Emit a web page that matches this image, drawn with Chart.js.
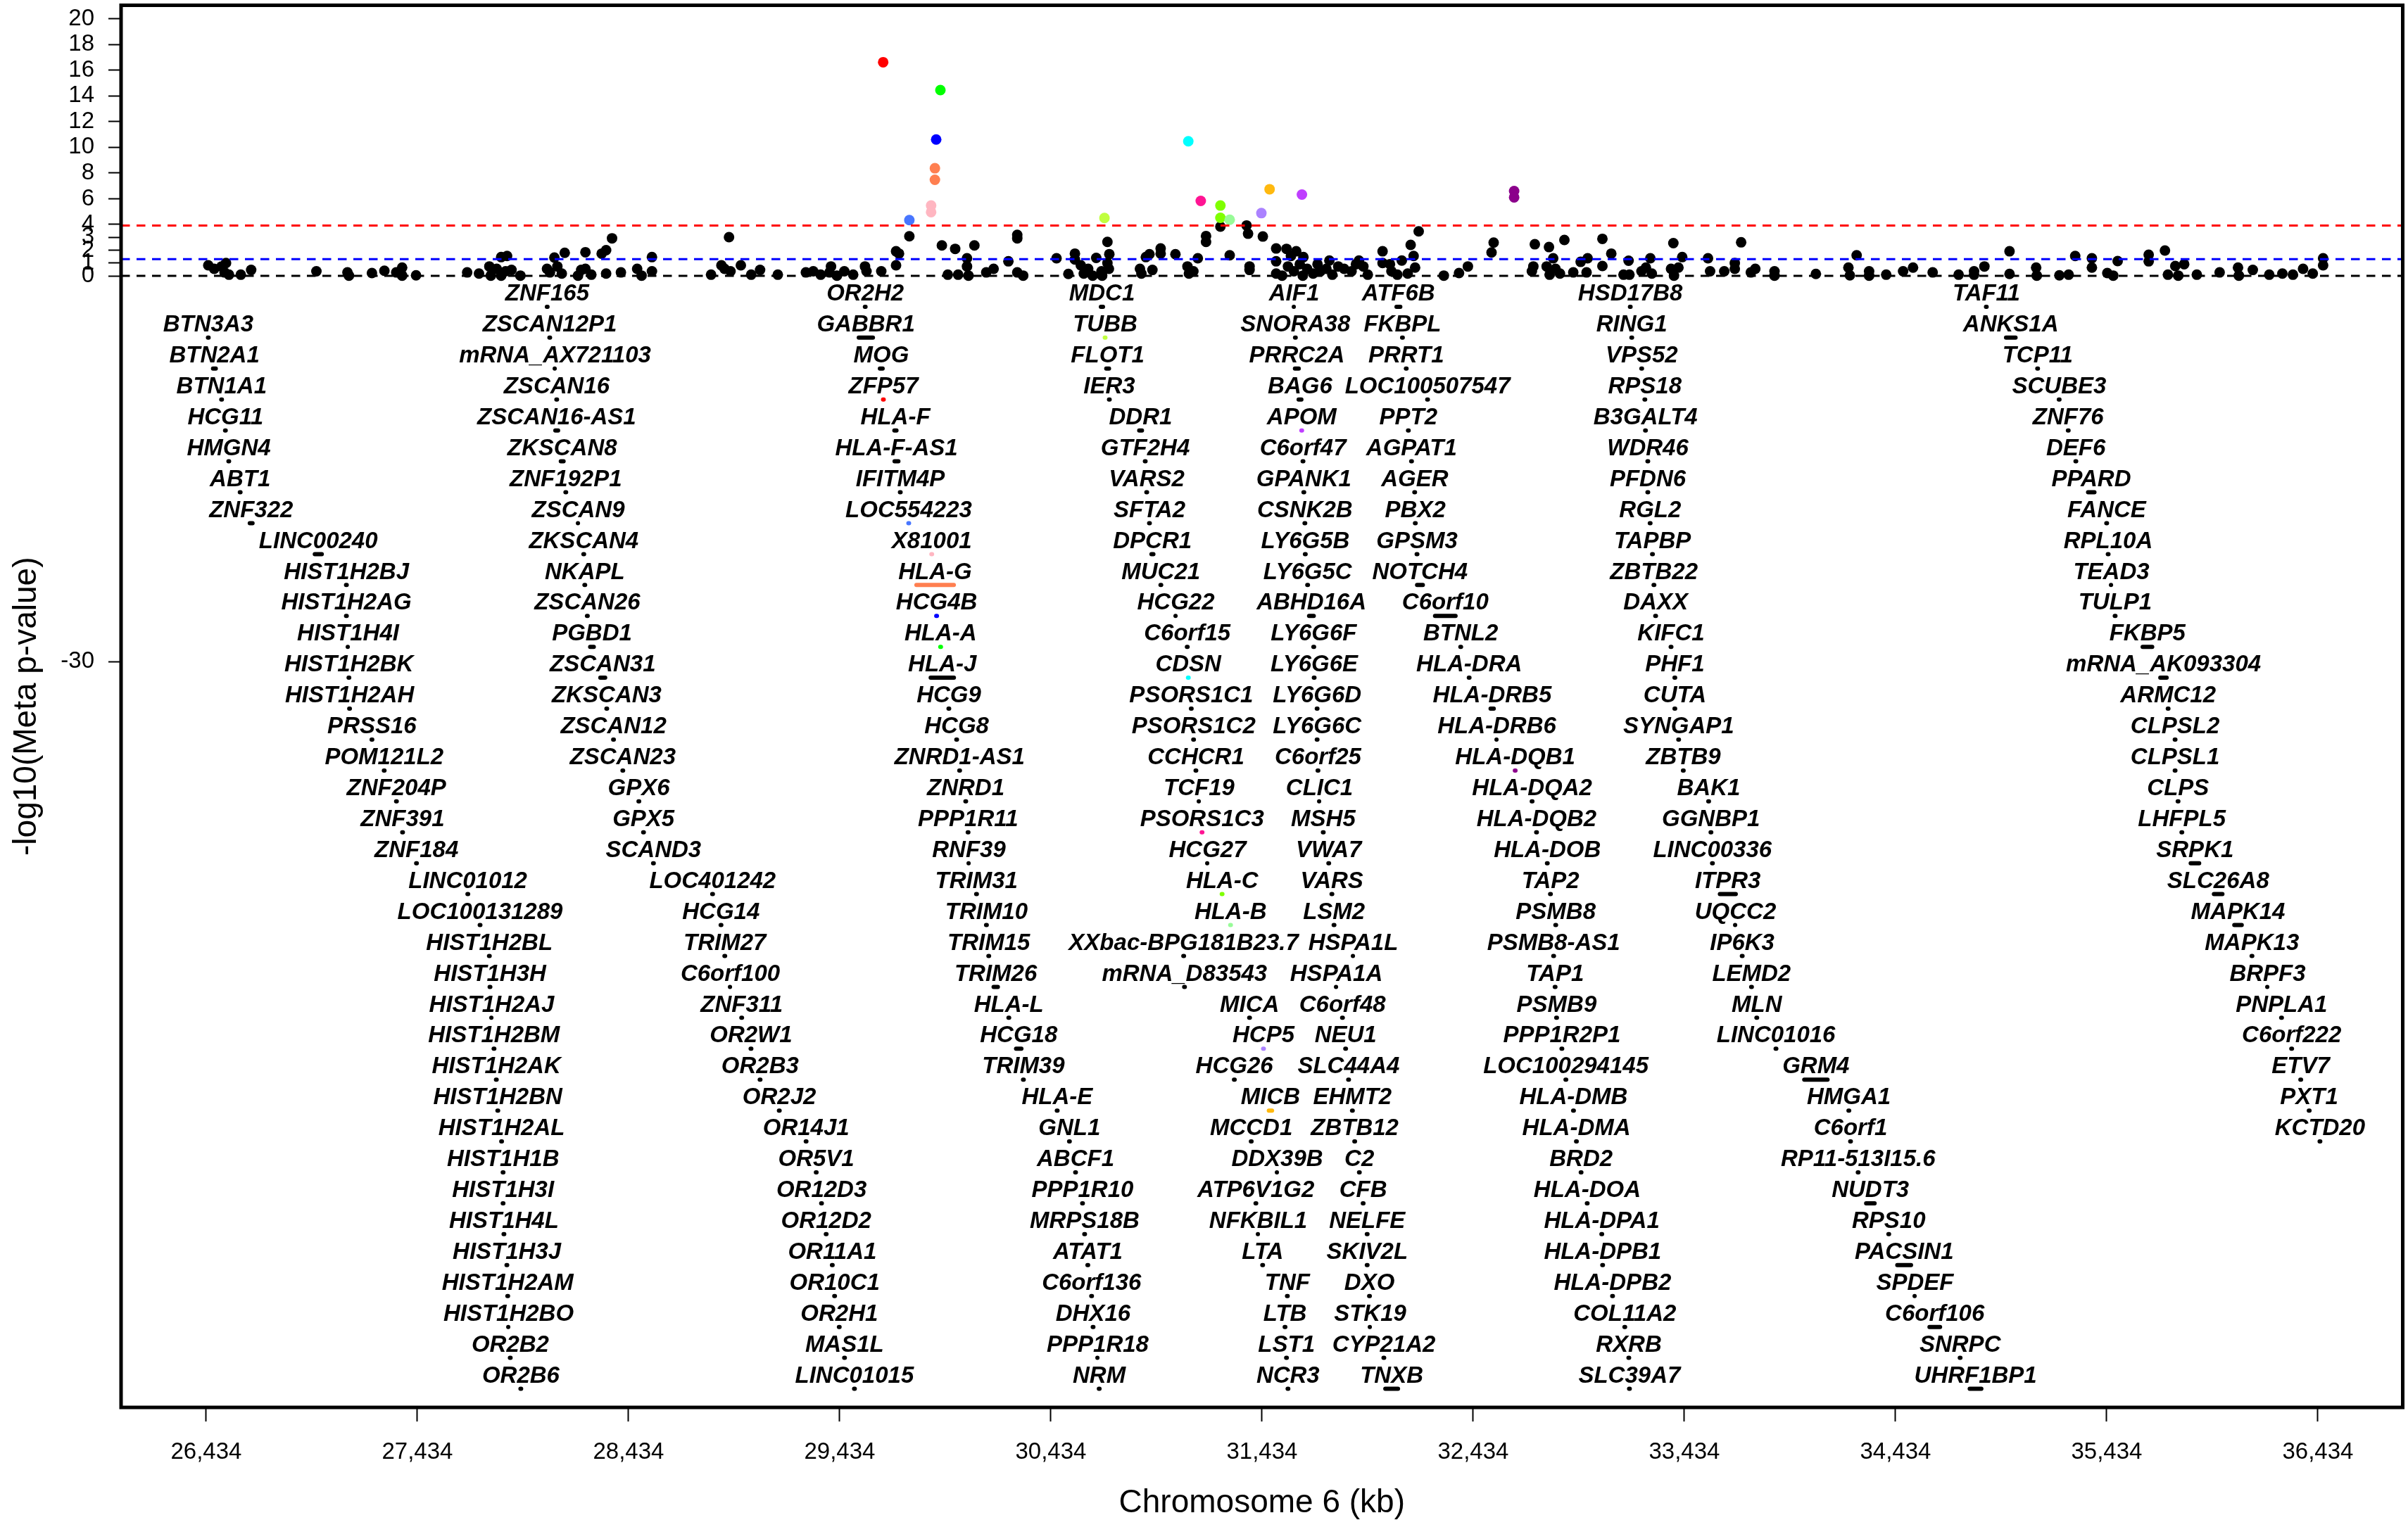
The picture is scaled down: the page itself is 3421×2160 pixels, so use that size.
<!DOCTYPE html>
<html>
<head>
<meta charset="utf-8">
<script src="https://cdn.jsdelivr.net/npm/chart.js@4.4.1/dist/chart.umd.min.js"></script>
<style>
html,body{margin:0;padding:0;background:#ffffff;}
canvas{display:block;}
</style>
</head>
<body>
<canvas id="chart" width="3421" height="2160"></canvas>
<script>
// ---------------- DATA ----------------
const xTickKb = [26434, 27434, 28434, 29434, 30434, 31434, 32434, 33434, 34434, 35434, 36434];
const yTickValues = [-30, 0, 1, 2, 3, 4, 6, 8, 10, 12, 14, 16, 18, 20];
const thresholdBonferroni = 3.92;
const thresholdNominal = 1.30;
const baseline = 0;

// black SNPs: position (kb) and -log10(p)
const blackPosKb = [
26444,26472,26507,26528,26521,26542,26598,26647,26956,27103,27110,27219,27278,27334,27362,27362,27428,
27670,27726,27775,27782,27810,27831,27859,27831,27852,27880,27922,28048,28062,28083,28097,28132,28118,28195,28230,28210,
28230,28258,28307,28328,28356,28328,28398,28475,28496,28545,28545,28825,28874,28889,28910,28917,28966,29015,29057,29141,
29274,29309,29344,29393,29386,29421,29456,29498,29554,29561,29631,29701,29701,29715,29764,29918,29981,29946,29995,30037,
30037,30044,30072,30128,30163,30233,30275,30275,30275,30303,
30461,30517,30548,30548,30576,30590,30611,30632,30649,30674,30677,30702,30711,30702,30709,30856,30863,30884,30901,30915,
30954,30954,31024,31081,31088,31109,31130,31169,31169,31237,31281,31361,31368,31375,31375,31438,31501,31550,31596,31630,
31501,31501,31529,31557,31571,31585,31613,31627,31648,31676,31697,31711,31739,31753,31767,31795,31823,31858,31879,31893,
31914,31935,32005,32005,32040,32047,32075,32096,32124,32138,32152,32159,32176,32295,32367,32409,32521,32531,
32726,32719,32712,32793,32813,32782,32796,32824,32845,32866,32908,32943,32976,32971,33046,33046,33088,33146,33170,33174,
33231,33252,33273,33280,33382,33371,33406,33385,33424,33546,33556,33623,33673,33673,33703,33749,33770,33861,33861,34057,
34211,34218,34250,34309,34309,34390,34470,34517,34610,
34733,34806,34806,34855,34974,34974,35100,35103,35210,35254,35285,35364,35364,35437,35465,35486,35633,35633,35710,35724,
35759,35801,35773,35861,35969,36056,36060,36126,36204,36266,36316,36364,36410,36459,36459
];
const blackLogP = [
0.82,0.55,0.73,1.00,0.27,0.09,0.09,0.46,0.36,0.27,0.02,0.22,0.40,0.27,0.64,0.02,0.04,
0.27,0.18,0.73,0.02,0.55,1.46,1.55,0.02,0.36,0.46,0.02,0.55,0.27,1.42,0.73,1.79,0.18,0.02,1.84,0.46,
0.55,0.09,1.73,2.00,2.92,0.18,0.27,0.55,0.02,1.46,0.36,0.09,0.82,0.55,3.01,0.36,0.82,0.09,0.46,0.09,
0.27,0.36,0.09,0.73,0.27,0.02,0.36,0.09,0.73,0.36,0.36,0.82,1.91,1.73,3.08,2.37,2.10,0.09,0.09,1.37,
0.73,0.02,2.37,0.27,0.55,1.13,3.19,2.92,0.27,0.02,
1.37,0.15,1.73,1.28,0.82,0.18,0.55,0.02,1.40,0.36,0.02,2.64,1.69,1.00,0.55,0.55,0.18,1.46,1.68,0.46,
2.13,1.73,1.68,0.73,0.18,0.36,1.37,3.10,2.64,3.83,1.60,3.92,3.28,0.73,0.46,3.06,2.13,2.10,1.91,1.46,
1.13,0.18,0.02,0.73,1.55,0.36,0.91,0.02,0.55,0.18,0.91,0.36,0.55,1.19,0.09,0.73,0.55,0.36,0.91,1.19,
0.73,0.09,1.91,1.00,0.91,0.36,0.09,1.19,0.18,2.41,1.55,0.64,3.46,0.02,0.22,0.73,1.82,2.59,
2.46,0.73,0.36,2.24,1.37,0.73,0.09,0.55,0.18,2.79,0.27,1.09,1.37,0.27,2.88,0.77,1.73,0.09,1.18,0.09,
0.36,0.64,1.37,0.18,2.55,0.55,0.64,0.02,1.46,1.37,0.36,0.36,1.00,0.55,2.61,0.27,0.55,0.36,0.02,0.15,
0.64,0.04,1.60,0.36,0.02,0.09,0.36,0.64,0.27,
0.09,0.36,0.09,0.73,1.91,0.15,0.64,0.02,0.04,0.09,1.55,1.37,0.64,0.22,0.02,1.15,1.64,1.13,1.97,0.09,
0.77,0.91,0.02,0.09,0.27,0.64,0.02,0.46,0.09,0.18,0.09,0.55,0.18,1.37,0.82
];

// highlighted (colored) SNPs
const hitPosKb = [29640, 29911, 29891, 29885, 29885, 29867, 29867, 29764, 30688, 31085, 31144, 31237, 31237, 31281, 31470, 31431, 31623, 32628, 32628];
const hitLogP  = [16.62, 14.45, 10.61, 8.37, 7.47, 5.47, 4.96, 4.34, 4.50, 10.47, 5.83, 5.47, 4.52, 4.37, 6.74, 4.88, 6.32, 6.60, 6.11];
const hitColor = ['#FF0000','#00FF00','#0000FF','#FF7F50','#FF7F50','#FFB6C1','#FFB6C1','#4876FF','#C0FF3E','#00FFFF','#FF1493','#7FFF00','#7FFF00','#98FB98','#FFB90F','#AB82FF','#BF3EFF','#8B008B','#8B008B'];

// genes, by label column (each column fills consecutive label rows)
const geneColumnFirstRow = [1, 0, 0, 0, 0, 0, 0, 0];
const geneNamesByColumn = [
 ['BTN3A3','BTN2A1','BTN1A1','HCG11','HMGN4','ABT1','ZNF322','LINC00240','HIST1H2BJ','HIST1H2AG','HIST1H4I','HIST1H2BK','HIST1H2AH','PRSS16','POM121L2','ZNF204P','ZNF391','ZNF184','LINC01012','LOC100131289','HIST1H2BL','HIST1H3H','HIST1H2AJ','HIST1H2BM','HIST1H2AK','HIST1H2BN','HIST1H2AL','HIST1H1B','HIST1H3I','HIST1H4L','HIST1H3J','HIST1H2AM','HIST1H2BO','OR2B2','OR2B6'],
 ['ZNF165','ZSCAN12P1','mRNA_AX721103','ZSCAN16','ZSCAN16-AS1','ZKSCAN8','ZNF192P1','ZSCAN9','ZKSCAN4','NKAPL','ZSCAN26','PGBD1','ZSCAN31','ZKSCAN3','ZSCAN12','ZSCAN23','GPX6','GPX5','SCAND3','LOC401242','HCG14','TRIM27','C6orf100','ZNF311','OR2W1','OR2B3','OR2J2','OR14J1','OR5V1','OR12D3','OR12D2','OR11A1','OR10C1','OR2H1','MAS1L','LINC01015'],
 ['OR2H2','GABBR1','MOG','ZFP57','HLA-F','HLA-F-AS1','IFITM4P','LOC554223','X81001','HLA-G','HCG4B','HLA-A','HLA-J','HCG9','HCG8','ZNRD1-AS1','ZNRD1','PPP1R11','RNF39','TRIM31','TRIM10','TRIM15','TRIM26','HLA-L','HCG18','TRIM39','HLA-E','GNL1','ABCF1','PPP1R10','MRPS18B','ATAT1','C6orf136','DHX16','PPP1R18','NRM'],
 ['MDC1','TUBB','FLOT1','IER3','DDR1','GTF2H4','VARS2','SFTA2','DPCR1','MUC21','HCG22','C6orf15','CDSN','PSORS1C1','PSORS1C2','CCHCR1','TCF19','PSORS1C3','HCG27','HLA-C','HLA-B','XXbac-BPG181B23.7','mRNA_D83543','MICA','HCP5','HCG26','MICB','MCCD1','DDX39B','ATP6V1G2','NFKBIL1','LTA','TNF','LTB','LST1','NCR3'],
 ['AIF1','SNORA38','PRRC2A','BAG6','APOM','C6orf47','GPANK1','CSNK2B','LY6G5B','LY6G5C','ABHD16A','LY6G6F','LY6G6E','LY6G6D','LY6G6C','C6orf25','CLIC1','MSH5','VWA7','VARS','LSM2','HSPA1L','HSPA1A','C6orf48','NEU1','SLC44A4','EHMT2','ZBTB12','C2','CFB','NELFE','SKIV2L','DXO','STK19','CYP21A2','TNXB'],
 ['ATF6B','FKBPL','PRRT1','LOC100507547','PPT2','AGPAT1','AGER','PBX2','GPSM3','NOTCH4','C6orf10','BTNL2','HLA-DRA','HLA-DRB5','HLA-DRB6','HLA-DQB1','HLA-DQA2','HLA-DQB2','HLA-DOB','TAP2','PSMB8','PSMB8-AS1','TAP1','PSMB9','PPP1R2P1','LOC100294145','HLA-DMB','HLA-DMA','BRD2','HLA-DOA','HLA-DPA1','HLA-DPB1','HLA-DPB2','COL11A2','RXRB','SLC39A7'],
 ['HSD17B8','RING1','VPS52','RPS18','B3GALT4','WDR46','PFDN6','RGL2','TAPBP','ZBTB22','DAXX','KIFC1','PHF1','CUTA','SYNGAP1','ZBTB9','BAK1','GGNBP1','LINC00336','ITPR3','UQCC2','IP6K3','LEMD2','MLN','LINC01016','GRM4','HMGA1','C6orf1','RP11-513I15.6','NUDT3','RPS10','PACSIN1','SPDEF','C6orf106','SNRPC','UHRF1BP1'],
 ['TAF11','ANKS1A','TCP11','SCUBE3','ZNF76','DEF6','PPARD','FANCE','RPL10A','TEAD3','TULP1','FKBP5','mRNA_AK093304','ARMC12','CLPSL2','CLPSL1','CLPS','LHFPL5','SRPK1','SLC26A8','MAPK14','MAPK13','BRPF3','PNPLA1','C6orf222','ETV7','PXT1','KCTD20']
];
const geneMidKbByColumn = [
 [26444,26473,26507,26525,26541,26595,26647,26965,27098,27098,27106,27110,27113,27219,27277,27335,27364,27430,27673,27731,27775,27778,27786,27797,27808,27815,27833,27840,27840,27844,27858,27862,27866,27874,27924],
 [28049,28061,28086,28094,28094,28120,28137,28196,28222,28227,28239,28261,28312,28331,28363,28407,28483,28505,28552,28832,28872,28890,28916,28970,29014,29057,29148,29275,29323,29348,29370,29399,29410,29432,29457,29504],
 [29555,29558,29631,29641,29698,29703,29721,29761,29870,29886,29893,29912,29920,29951,29988,30002,30031,30042,30046,30082,30129,30140,30173,30235,30282,30304,30464,30522,30551,30584,30594,30609,30627,30634,30656,30663],
 [30676,30691,30703,30711,30859,30881,30888,30901,30915,30955,31026,31080,31085,31099,31110,31121,31136,31150,31176,31245,31285,31063,31067,31375,31441,31303,31474,31383,31506,31405,31416,31437,31554,31543,31550,31557],
 [31586,31592,31599,31614,31622,31628,31632,31637,31639,31650,31668,31679,31681,31695,31695,31699,31706,31724,31750,31765,31775,31866,31786,31815,31830,31844,31862,31873,31895,31913,31932,31932,31943,31946,32011,32048],
 [32080,32099,32117,32218,32127,32142,32157,32160,32168,32182,32302,32375,32415,32524,32546,32633,32713,32734,32785,32800,32825,32815,32822,32829,32854,32873,32909,32923,32945,32974,33043,33047,33094,33152,33171,33174],
 [33178,33185,33232,33247,33250,33261,33261,33272,33283,33290,33298,33371,33389,33389,33407,33429,33549,33560,33567,33640,33676,33708,33752,33777,33868,34057,34213,34221,34257,34315,34402,34475,34526,34620,34740,34813],
 [34864,34980,35107,35209,35252,35288,35361,35434,35441,35456,35474,35627,35703,35725,35758,35758,35772,35790,35852,35962,36056,36122,36196,36262,36310,36353,36393,36444]
];
// gene extents (kb) that are wider than a dot
const geneLenKb = {
 'BTN2A1':13,'ZNF322':13,'LINC00240':33,'ZSCAN16-AS1':13,'ZKSCAN8':13,'PGBD1':17,'ZSCAN31':23,
 'GABBR1':67,'MOG':13,'HLA-F':10,'HLA-F-AS1':18,'HLA-G':177,'HLA-J':110,'TRIM26':20,'HCG18':25,
 'MDC1':10,'FLOT1':13,'DDR1':13,'DPCR1':9,'MICB':15,
 'PRRC2A':18,'BAG6':13,'ABHD16A':22,'TNXB':60,
 'ATF6B':18,'NOTCH4':27,'C6orf10':97,'HLA-DRB5':15,
 'ITPR3':75,'GRM4':110,'NUDT3':40,'PACSIN1':65,'C6orf106':50,'UHRF1BP1':55,
 'ANKS1A':45,'PPARD':30,'FKBP5':45,'mRNA_AK093304':30,'SRPK1':40,'SLC26A8':40,'MAPK14':35
};
const defaultGeneLenKb = 3;
const geneColor = {
 'ZFP57':'#FF0000','LOC554223':'#4876FF','X81001':'#FFB6C1','HLA-G':'#FF7F50','HCG4B':'#0000FF','HLA-A':'#00FF00',
 'TUBB':'#C0FF3E','CDSN':'#00FFFF','PSORS1C3':'#FF1493','HLA-C':'#7FFF00','HLA-B':'#98FB98','HCP5':'#AB82FF',
 'MICB':'#FFB90F','APOM':'#BF3EFF','HLA-DQB1':'#8B008B'
};

// ---------------- BUILD ----------------
const X_MIN = 26031, X_MAX = 36836, Y_MIN = -88.03, Y_MAX = 21.05;
const ROW_STEP = 2.405, LABEL_LIFT = 0.98;
const FONT = '"Liberation Sans", Arial, Helvetica, sans-serif';

const genes = [];
geneNamesByColumn.forEach((names, c) => {
  names.forEach((name, i) => {
    const row = geneColumnFirstRow[c] + i;
    const mid = geneMidKbByColumn[c][i];
    const len = geneLenKb[name] || defaultGeneLenKb;
    genes.push({name, mid, start: mid - len / 2, end: mid + len / 2, y: -ROW_STEP * (row + 1), color: geneColor[name] || '#000000'});
  });
});
const geneSegData = [];
genes.forEach(g => {
  geneSegData.push({x: g.start, y: g.y}, {x: g.end, y: g.y}, {x: g.end, y: null});
});

const blackData = blackPosKb.map((x, i) => ({x, y: blackLogP[i]}));
const hitData = hitPosKb.map((x, i) => ({x, y: hitLogP[i]}));
const hLine = v => [{x: X_MIN, y: v}, {x: X_MAX, y: v}];

const geneLabelPlugin = {
  id: 'geneLabels',
  afterDatasetsDraw(chart) {
    const {ctx, scales: {x, y}} = chart;
    ctx.save();
    ctx.font = 'italic bold 33px ' + FONT;
    ctx.fillStyle = '#000';
    ctx.textAlign = 'center';
    ctx.textBaseline = 'middle';
    genes.forEach(g => ctx.fillText(g.name, x.getPixelForValue(g.mid), y.getPixelForValue(g.y + LABEL_LIFT)));
    ctx.restore();
  }
};
const boxPlugin = {
  id: 'box',
  afterDraw(chart) {
    const {ctx, chartArea: a} = chart;
    ctx.save();
    ctx.strokeStyle = '#000';
    ctx.lineWidth = 5;
    ctx.strokeRect(a.left, a.top, a.right - a.left, a.bottom - a.top);
    ctx.restore();
  }
};

new Chart(document.getElementById('chart'), {
  type: 'scatter',
  data: {
    datasets: [
      {type: 'line', label: 'Bonferroni', data: hLine(thresholdBonferroni), borderColor: '#FF0000', borderWidth: 3, borderDash: [12.5, 9.5], pointRadius: 0, order: 1},
      {type: 'line', label: 'p=0.05', data: hLine(thresholdNominal), borderColor: '#0000FF', borderWidth: 3, borderDash: [12.5, 9.5], pointRadius: 0, order: 1},
      {type: 'line', label: 'zero', data: hLine(baseline), borderColor: '#000000', borderWidth: 3, borderDash: [12.5, 9.5], pointRadius: 0, order: 1},
      {label: 'hits', data: hitData, backgroundColor: hitColor, borderWidth: 0, pointRadius: 7.5, order: 2},
      {label: 'SNPs', data: blackData, backgroundColor: '#000000', borderWidth: 0, pointRadius: 7.5, order: 3},
      {type: 'line', label: 'genes', data: geneSegData, showLine: true, spanGaps: false, borderWidth: 6, borderCapStyle: 'round',
       borderColor: '#000', pointRadius: 0, order: 4,
       segment: {borderColor: ctx => genes[Math.floor(ctx.p0DataIndex / 3)].color}}
    ]
  },
  options: {
    responsive: false,
    animation: false,
    devicePixelRatio: 1,
    layout: {padding: {top: 5, right: 3, left: 0, bottom: 0}},
    plugins: {legend: {display: false}, tooltip: {enabled: false}},
    scales: {
      x: {
        type: 'linear', min: X_MIN, max: X_MAX,
        afterBuildTicks: s => { s.ticks = xTickKb.map(v => ({value: v})); },
        afterFit: s => { s.height = 160; s.paddingLeft = 0; s.paddingRight = 0; },
        ticks: {autoSkip: false, maxRotation: 0, padding: 24, color: '#000', font: {family: FONT, size: 33},
                callback: v => v.toLocaleString('en-US')},
        grid: {drawOnChartArea: false, drawTicks: true, tickLength: 20, tickWidth: 2, tickColor: '#000'},
        border: {display: false},
        title: {display: true, text: 'Chromosome 6 (kb)', color: '#000', font: {family: FONT, size: 46, lineHeight: 1.0}, padding: {top: 0, bottom: 1}}
      },
      y: {
        type: 'linear', min: Y_MIN, max: Y_MAX,
        afterBuildTicks: s => { s.ticks = yTickValues.map(v => ({value: v})); },
        afterFit: s => { s.width = 172; s.paddingTop = 0; s.paddingBottom = 0; },
        ticks: {autoSkip: false, padding: 20, color: '#000', font: {family: FONT, size: 33}, callback: v => String(v)},
        grid: {drawOnChartArea: false, drawTicks: true, tickLength: 18, tickWidth: 2, tickColor: '#000'},
        border: {display: false},
        title: {display: true, text: '-log10(Meta p-value)', color: '#000', font: {family: FONT, size: 46}, padding: {top: 11, bottom: 0}}
      }
    }
  },
  plugins: [geneLabelPlugin, boxPlugin]
});
</script>
</body>
</html>
